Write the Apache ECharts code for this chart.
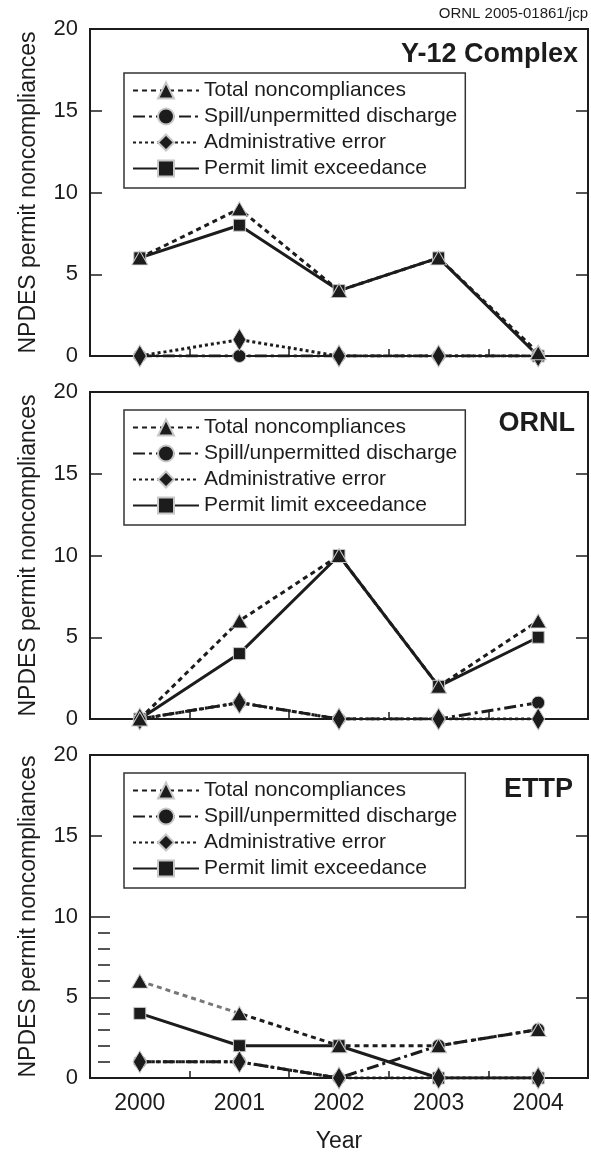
<!DOCTYPE html>
<html>
<head>
<meta charset="utf-8">
<script src="https://cdn.jsdelivr.net/npm/echarts@6/dist/echarts.min.js"></script>
<style>
  html, body { margin: 0; padding: 0; background: #fff; }
  #chart { width: 591px; height: 1154px; }
</style>
</head>
<body>
<div id="chart"></div>
<script>
const years = ['2000', '2001', '2002', '2003', '2004'];
const sites = ['Y-12 Complex', 'ORNL', 'ETTP'];

const y12Total = [6, 9, 4, 6, 0.2];
const y12Spill = [0, 0, 0, 0, 0];
const y12Admin = [0, 1, 0, 0, 0];
const y12Permit = [6, 8, 4, 6, 0];

const ornlTotal = [0, 6, 10, 2, 6];
const ornlSpill = [0, 1, 0, 0, 1];
const ornlAdmin = [0, 1, 0, 0, 0];
const ornlPermit = [0, 4, 10, 2, 5];

const ettpTotal = [6, 4, 2, 2, 3];
const ettpSpill = [1, 1, 0, 2, 3];
const ettpAdmin = [1, 1, 0, 0, 0];
const ettpPermit = [4, 2, 2, 0, 0];

const yTicks = [0, 5, 10, 15, 20];
const ettpExtraTicks = [1, 2, 3, 4, 5, 6, 7, 8, 9, 10];

const font = 'Liberation Sans';
const ink = '#1c1c1c';

// drawing order: permit, spill, admin, total (total on top)
const kinds = [
  { key: 'permit', name: 'Permit limit exceedance', symbol: 'rect', size: 12, dash: 'solid' },
  { key: 'spill', name: 'Spill/unpermitted discharge', symbol: 'circle', size: 13, dash: [12, 4, 3, 4] },
  { key: 'admin', name: 'Administrative error', symbol: 'diamond', size: [13, 22], dash: [3, 3] },
  { key: 'total', name: 'Total noncompliances', symbol: 'triangle', size: [16, 14], dash: [5, 4] },
];
const legendOrder = ['Total noncompliances', 'Spill/unpermitted discharge', 'Administrative error', 'Permit limit exceedance'];

const panelData = [
  { total: y12Total, spill: y12Spill, admin: y12Admin, permit: y12Permit },
  { total: ornlTotal, spill: ornlSpill, admin: ornlAdmin, permit: ornlPermit },
  { total: ettpTotal, spill: ettpSpill, admin: ettpAdmin, permit: ettpPermit },
];

const gridTops = [29, 392, 755];
const gridHeight = 327;
const legendTops = [73, 410, 773];
const titleTops = [41, 410, 776];
const titleRights = [13, 16, 18];

const chart = echarts.init(document.getElementById('chart'));

const grid = gridTops.map((t) => ({
  left: 90, right: 3, top: t, height: gridHeight,
  show: true, borderColor: ink, borderWidth: 2, backgroundColor: 'transparent',
}));

const xAxis = gridTops.map((t, i) => ({
  type: 'category',
  gridIndex: i,
  data: years,
  boundaryGap: true,
  axisLine: { show: true, lineStyle: { color: ink, width: 2 } },
  axisTick: { show: true, inside: true, length: 7, lineStyle: { color: ink, width: 1.5 } },
  axisLabel: { show: i === 2, fontFamily: font, fontSize: 23, color: ink, margin: 14 },
  name: i === 2 ? 'Year' : '',
  nameLocation: 'middle',
  nameGap: 52,
  nameTextStyle: { fontFamily: font, fontSize: 23, color: ink },
  splitLine: { show: false },
}));

const yAxis = [];
gridTops.forEach((t, i) => {
  yAxis.push({
    type: 'value',
    gridIndex: i,
    min: 0, max: 20, interval: 5,
    axisLine: { show: true, lineStyle: { color: ink, width: 2 } },
    axisTick: { show: true, inside: true, length: 12, lineStyle: { color: ink, width: 1.5 } },
    axisLabel: { fontFamily: font, fontSize: 22, color: ink, margin: 12, customValues: yTicks },
    splitLine: { show: false },
    name: 'NPDES permit noncompliances',
    nameLocation: 'middle',
    nameGap: 50,
    nameTextStyle: { fontFamily: font, fontSize: 23, color: ink },
  });
  yAxis.push({
    type: 'value',
    gridIndex: i,
    position: 'right',
    min: 0, max: 20, interval: 5,
    axisLine: { show: false },
    axisTick: { show: true, inside: true, length: 12, lineStyle: { color: ink, width: 1.5 } },
    axisLabel: { show: false },
    splitLine: { show: false },
  });
});
// stray ticks drawn inside the ETTP panel
yAxis.push({
  type: 'value',
  gridIndex: 2,
  position: 'left',
  offset: -8,
  min: 0, max: 20, interval: 1,
  axisLine: { show: false },
  axisTick: { show: true, inside: true, length: 12, customValues: ettpExtraTicks, lineStyle: { color: ink, width: 1.5 } },
  axisLabel: { show: false },
  splitLine: { show: false },
});

const series = [];
panelData.forEach((d, i) => {
  kinds.forEach((k) => {
    let lineColor = ink;
    if (i === 2 && k.key === 'total') {
      // first segment of the ETTP total line is grey in the original
      lineColor = new echarts.graphic.LinearGradient(0, 0, 1, 0, [
        { offset: 0, color: '#777' }, { offset: 0.25, color: '#777' },
        { offset: 0.25, color: ink }, { offset: 1, color: ink },
      ]);
    }
    series.push({
      type: 'line',
      name: k.name,
      xAxisIndex: i,
      yAxisIndex: i * 2,
      data: d[k.key],
      symbol: k.symbol,
      symbolSize: k.size,
      showAllSymbol: true,
      lineStyle: { color: lineColor, width: 3, type: k.dash },
      itemStyle: { color: ink, borderColor: '#c8c8c8', borderWidth: 1 },
      emphasis: { disabled: true },
      animation: false,
    });
  });
});

const legend = legendTops.map((t) => ({
  left: 124,
  top: t,
  orient: 'vertical',
  data: legendOrder,
  itemWidth: 66,
  itemHeight: 20,
  itemGap: 5,
  padding: [7, 8, 9, 8],
  borderColor: '#333',
  borderWidth: 1.5,
  backgroundColor: '#fff',
  selectedMode: false,
  textStyle: { fontFamily: font, fontSize: 21, color: ink, padding: [0, 4, 0, 0] },
}));

const title = sites.map((s, i) => ({
  text: s,
  right: titleRights[i],
  top: titleTops[i],
  padding: 0,
  textStyle: { fontFamily: font, fontSize: 27, fontWeight: 'bold', color: ink },
}));
title.push({
  text: 'ORNL 2005-01861/jcp',
  right: 3,
  top: 6,
  padding: 0,
  textStyle: { fontFamily: font, fontSize: 15, fontWeight: 'normal', color: ink },
});

chart.setOption({
  animation: false,
  backgroundColor: '#fff',
  title,
  legend,
  grid,
  xAxis,
  yAxis,
  series,
});
</script>
</body>
</html>
